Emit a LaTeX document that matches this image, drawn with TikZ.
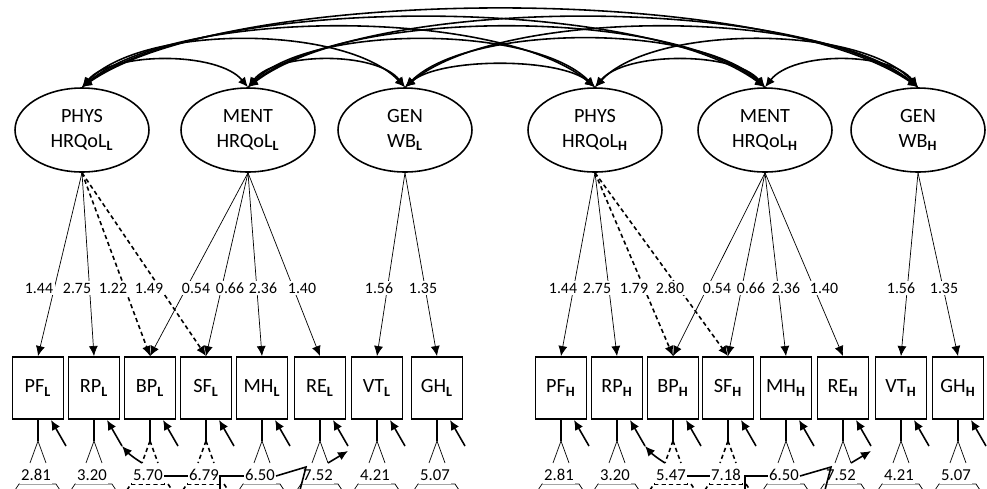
\documentclass[tikz,border=0pt]{standalone}
\usepackage{fontspec}
\setmainfont{Carlito}
\usetikzlibrary{shapes.geometric,arrows.meta}

\newcommand{\sL}{\textsubscript{\bfseries L}}
\newcommand{\sH}{\textsubscript{\bfseries H}}

\begin{document}
\begin{tikzpicture}[x=0.02cm,y=-0.02cm,
  line/.style={line width=0.9pt},
  weak/.style={line width=0.9pt,dash pattern=on 2.4pt off 1.8pt},
  latent/.style={ellipse,draw,line width=0.9pt,minimum width=2.68cm,minimum height=1.68cm,inner sep=0pt,align=center,font=\fontsize{11.5}{14.5}\selectfont},
  obs/.style={rectangle,draw,line width=1.1pt,minimum width=1.02cm,minimum height=1.24cm,inner sep=0pt,font=\fontsize{11.5}{13}\selectfont},
  load/.style={-{Latex[length=2mm,width=1.8mm]}},
  cov/.style={line,{Latex[length=2mm,width=1.8mm]}-{Latex[length=2mm,width=1.8mm]}},
  est/.style={fill=white,inner sep=1pt,font=\fontsize{9}{10}\selectfont},
  var/.style={fill=white,inner sep=0.5pt,text height=6.5pt,text depth=1.5pt,font=\fontsize{9.5}{10}\selectfont}]
\useasboundingbox (0,0) rectangle (987,488);
\clip (0,0) rectangle (987,488);

% latent factors, low and high
\node[latent] (physL) at (82,130) {PHYS\\HRQoL\sL};
\node[latent] (mentL) at (248,130) {MENT\\HRQoL\sL};
\node[latent] (genL) at (405,130) {GEN\\WB\sL};
\node[latent] (physH) at (595,130) {PHYS\\HRQoL\sH};
\node[latent] (mentH) at (765,130) {MENT\\HRQoL\sH};
\node[latent] (genH) at (918,130) {GEN\\WB\sH};

% factor covariances
\foreach \a/\b/\dx/\k in {physL/mentL/30/36, physL/genL/60/63, physL/physH/95/80, physL/mentH/125/93, physL/genH/150/104,
    mentL/genL/28/36, mentL/physH/62/63, mentL/mentH/95/80, mentL/genH/122/93,
    genL/physH/35/30, genL/mentH/65/64, genL/genH/95/80,
    physH/mentH/30/36, physH/genH/58/63, mentH/genH/28/36}
  \draw[cov] (\a.north) .. controls +(\dx,-\k) and +(-\dx,-\k) .. (\b.north);

% scales with residual parts below
\foreach \g/\c/\lst in {L/\sL/{PF/38/solid/2.81, RP/94/solid/3.20, BP/150/weak/5.70, SF/206/weak/6.79, MH/262/solid/6.50, RE/320/solid/7.52, VT/377/solid/4.21, GH/437/solid/5.07},
    H/\sH/{PF/561/solid/2.81, RP/617/solid/3.20, BP/673/weak/5.47, SF/728/weak/7.18, MH/786/solid/6.50, RE/843/solid/7.52, VT/901/solid/4.21, GH/958/solid/5.07}}
  \foreach \t/\x/\s/\v in \lst {
    \node[obs] (\t-\g) at (\x,388) {\t\c};
    \coordinate (\t-\g e) at (\x+28,446);
    \draw[line,load] (\t-\g e) -- ([xshift=0.26cm]\t-\g.south);
    \draw[line] (\t-\g.south) -- ++(0,21) coordinate (\t-\g a);
    \draw[\s] (\t-\g a) -- ++(-8,22) coordinate (\t-\g l);
    \draw[\s] (\t-\g a) -- ++(8,22) coordinate (\t-\g r);
    \draw[\s] (\x-23,490) -- (\x-19,484) -- (\x+18,484) -- (\x+22,490);
    \node[var] (\t-\g v) at (\x-2,476) {\v};
  }

% loadings
\foreach \f/\t/\s in {physL/PF-L/solid, physL/RP-L/solid, physL/BP-L/weak, physL/SF-L/weak,
    mentL/BP-L/solid, mentL/SF-L/solid, mentL/MH-L/solid, mentL/RE-L/solid, genL/VT-L/solid, genL/GH-L/solid,
    physH/PF-H/solid, physH/RP-H/solid, physH/BP-H/weak, physH/SF-H/weak,
    mentH/BP-H/solid, mentH/SF-H/solid, mentH/MH-H/solid, mentH/RE-H/solid, genH/VT-H/solid, genH/GH-H/solid}
  \draw[\s,load] (\f.south) -- (\t.north);

\foreach \v/\x [count=\i] in {1.44/39, 2.75/77, 1.22/113, 1.49/149, 0.54/196, 0.66/230, 2.36/263, 1.40/302, 1.56/379, 1.35/423}
  \node[est] (wL\i) at (\x,288) {\v};
\foreach \v/\x [count=\i] in {1.44/563, 2.75/597, 1.79/634, 2.80/670, 0.54/717, 0.66/751, 2.36/786, 1.40/824, 1.56/901, 1.35/944}
  \node[est] (wH\i) at (\x,288) {\v};

% links between residual parts
\coordinate (RE-Lx) at (348,451);
\draw[line,load] (BP-Ll) to[bend left=8] (RP-Le);
\draw[line,load] (RE-Lr) -- (RE-Lx);
\draw[line] (BP-Lv) -- (SF-Lv);
\coordinate (kL) at (220,490);
\draw[line] (MH-Lv.west) -| (kL);
\coordinate (jL1) at (306,467);
\coordinate (jL2) at (300,490);
\draw[line] (MH-Lv.east) -- (jL1) -- (jL2);

\coordinate (RE-Hx) at (871,451);
\draw[line,load] (BP-Hl) to[bend left=8] (RP-He);
\draw[line,load] (RE-Hr) -- (RE-Hx);
\draw[line] (BP-Hv) -- (SF-Hv);
\coordinate (kH) at (745,490);
\draw[line] (MH-Hv.west) -| (kH);
\coordinate (jH1) at (831,467);
\coordinate (jH2) at (825,490);
\draw[line] (MH-Hv.east) -- (jH1) -- (jH2);
\end{tikzpicture}
\end{document}
